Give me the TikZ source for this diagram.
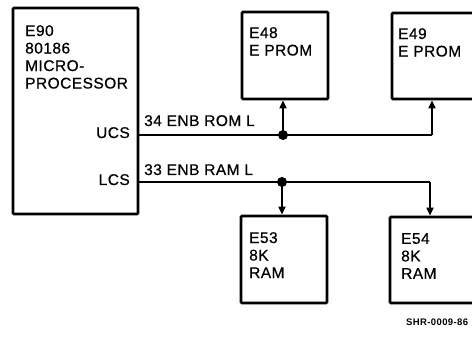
\documentclass[tikz,border=0pt]{standalone}
\usepackage{fontspec}
\setmainfont[LetterSpace=3,FakeBold=0.6]{Liberation Sans}
\newfontfamily\capfont[LetterSpace=4]{Liberation Sans}
\usetikzlibrary{arrows.meta}
\begin{document}
\begin{tikzpicture}[x=1pt,y=-1pt,
  chip/.style={draw,line width=2.7pt,rounded corners=1pt,inner sep=0pt},
  lbl/.style={anchor=north west,align=left,inner sep=0pt,font=\fontsize{15.5}{17.5}\selectfont},
  sig/.style={inner sep=0pt,font=\fontsize{15.5}{17.5}\selectfont},
  wire/.style={line width=1.8pt},
  arr/.style={wire,-{Triangle[length=8pt,width=7pt]}},
  dot/.style={circle,fill,inner sep=0pt,minimum size=10pt}]
\useasboundingbox (0,0) rectangle (472,337);
\clip (0,0) rectangle (472,337);
% chips
\node[chip,minimum width=125pt,minimum height=206pt] (cpu) at (75.5,111) {};
\node[chip,minimum width=86pt,minimum height=87pt] (e48) at (285,55.5) {};
\node[chip,minimum width=86pt,minimum height=86pt] (e49) at (435,56) {};
\node[chip,minimum width=86pt,minimum height=87pt] (e53) at (284,259.5) {};
\node[chip,minimum width=86pt,minimum height=86pt] (e54) at (433,260) {};
% labels
\node[lbl] (tcpu) at (25,25) {E90\\80186\\MICRO-\\PROCESSOR};
\node[lbl] (t48) at (249,27) {E48\\E PROM};
\node[lbl] (t49) at (398,28) {E49\\E PROM};
\node[lbl] (t53) at (249,232) {E53\\8K\\RAM};
\node[lbl] (t54) at (401,233) {E54\\8K\\RAM};
\node[sig,anchor=base east] (ucs) at (130,138) {UCS};
\node[sig,anchor=base east] (lcs) at (130,185) {LCS};
\node[sig,anchor=base west] (rom) at (144,126) {34 ENB ROM L};
\node[sig,anchor=base west] (ram) at (144,175) {33 ENB RAM L};
\node[anchor=base west,inner sep=0pt,font=\capfont\fontsize{9.5}{11}\bfseries] (cap) at (406,325) {SHR-0009-86};
% junctions
\coordinate (j1) at (283,135);
\coordinate (j2) at (282,182);
\coordinate (c49) at (432,135);
\coordinate (c54) at (430,182);
\draw[wire] (cpu.east |- j1) -- (j1) -- (c49);
\draw[arr] (c49) -- (c49 |- e49.south);
\draw[arr] (j1) -- (j1 |- e48.south);
\draw[wire] (cpu.east |- j2) -- (j2) -- (c54);
\draw[arr] (c54) -- (c54 |- e54.north);
\draw[arr] (j2) -- (j2 |- e53.north);
\node[dot] (d1) at (j1) {};
\node[dot] (d2) at (j2) {};
\end{tikzpicture}
\end{document}
